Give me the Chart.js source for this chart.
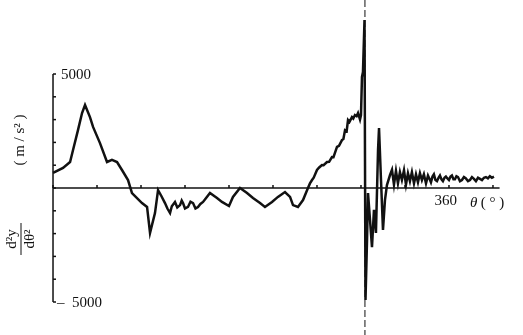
<!DOCTYPE html>
<html>
<head>
<meta charset="utf-8">
<script src="https://cdn.jsdelivr.net/npm/chart.js@4"></script>
<style>
  body { margin: 0; background: #fff; }
  canvas { display: block; }
</style>
</head>
<body>
<canvas id="lineChart" width="523" height="335"></canvas>
<script>
// crank angle (deg) and acceleration d2y/dθ2 (m/s2)
const theta = [0, 9.1, 15.5, 18.2, 22.7, 26.4, 29.1, 33.6, 36.4, 42.7, 49.1, 53.6, 58.2, 62.7, 68.2, 71.8,
    80.9, 85.5, 88.2, 92.7, 95.5, 98.5, 101.8, 104, 106.4, 108, 110.9, 113, 115.5, 117, 118.2, 120, 122.7,
    125, 127.3, 129.5, 131.8, 134, 136.4, 139, 142.7,
    149.1, 153.6, 160, 163.6, 170, 176.4, 181.8, 188.2, 192.7, 199.1, 204.5, 210.9, 215.5, 218.2, 222.7,
    227.3, 231.8, 233.6, 235.5, 237, 240, 242, 244.5, 246, 249.1, 251, 253.6, 255, 258.2, 260, 262.7, 264,
    265.5, 267, 268.2, 269.5, 271.8, 273, 274.5, 276, 277.3, 279.1,
    280, 280.9, 281.8, 283.2, 284.1, 285.5, 286.4, 288.2, 290, 291.8, 293.6, 295.5, 296.4, 298.2, 300,
    301.8, 303.6, 306.4, 308.2, 310, 311.8, 313.6, 315.4, 317.2, 319.1, 320.9, 322.7, 324.5, 326.3, 328.2,
    330, 331.8, 333.6, 335.4, 337.2, 339.1, 340.9, 342.3, 343.6, 345, 346.3, 347.7, 349.1, 350.5, 351.8,
    353.2, 354.5, 355.9, 357.2, 358.6, 360, 361.4, 362.7, 364.1, 365.4, 366.8, 368.2, 370, 371.8, 373.6,
    375.4, 377.3, 379.1, 380.9, 382.7, 384.5, 386.4, 388.2, 390, 391.8, 393.6, 395.4, 397.2, 399, 400.9];
const accel = [660, 880, 1140, 1670, 2540, 3290, 3640, 3110, 2680, 1970, 1140, 1230, 1140, 790, 350, -220,
    -660, -830, -1970, -1100, -90, -350, -660, -900, -1100, -800, -610, -850, -750, -550, -660, -900, -830,
    -600, -660, -900, -830, -700, -610, -450, -220,
    -440, -610, -790, -390, 0, -220, -440, -660, -830, -610, -390, -175, -390, -750, -830,
    -530, 0, 200, 350, 450, 790, 900, 1010, 1000, 1140, 1150, 1360, 1350, 1800, 1850, 2100, 2150,
    2540, 2500, 2980, 2900, 3110, 3050, 3200, 3150, 3290, 3000,
    3200, 4870, 5090, 7370, -4910, -2280, -220, -1400, -2590, -960, -1970, 1670, 2630, 350, -1840,
    -530, 130, 570, 800, 150, 750, 200, 700, 350, 780, 150, 650, 300, 700, 200,
    600, 250, 650, 350, 600, 200, 550, 400, 250, 500, 600, 350, 300, 450, 550,
    380, 300, 450, 500, 420, 350, 500, 550, 380, 380, 520, 480, 300, 350, 480,
    420, 300, 350, 480, 400, 300, 450, 400, 350, 450, 480, 420, 520, 450, 500];
const yTicks = [-5000, -4000, -3000, -2000, -1000, 0, 1000, 2000, 3000, 4000, 5000];
const xTicks = [0, 40, 80, 120, 160, 200, 240, 280, 320, 360, 400];
const markAngle = 283.6;

const points = theta.map((t, i) => ({ x: t, y: accel[i] }));

const axesPlugin = {
    id: 'axesPlugin',
    beforeDatasetsDraw(chart) {
        const ctx = chart.ctx;
        const xs = chart.scales.x, ys = chart.scales.y;
        const x0 = xs.getPixelForValue(0);
        const y0 = ys.getPixelForValue(0);
        ctx.save();
        ctx.strokeStyle = '#111';
        ctx.fillStyle = '#111';
        ctx.lineWidth = 1.5;
        // y axis
        ctx.beginPath();
        ctx.moveTo(x0, ys.getPixelForValue(5000));
        ctx.lineTo(x0, ys.getPixelForValue(-5000));
        ctx.stroke();
        yTicks.forEach(v => {
            const py = ys.getPixelForValue(v);
            ctx.beginPath();
            ctx.moveTo(x0, py);
            ctx.lineTo(x0 + 3, py);
            ctx.stroke();
        });
        // x axis
        ctx.beginPath();
        ctx.moveTo(x0, y0);
        ctx.lineTo(xs.getPixelForValue(406), y0);
        ctx.stroke();
        xTicks.forEach(t => {
            const px = xs.getPixelForValue(t);
            ctx.beginPath();
            ctx.moveTo(px, y0);
            ctx.lineTo(px, y0 - 3);
            ctx.stroke();
        });
        // dashed marker line
        ctx.lineWidth = 1;
        ctx.setLineDash([7, 3]);
        const mx = xs.getPixelForValue(markAngle);
        ctx.beginPath();
        ctx.moveTo(mx, 0);
        ctx.lineTo(mx, chart.height);
        ctx.stroke();
        ctx.setLineDash([]);

        // labels
        ctx.font = '15px "Liberation Serif"';
        ctx.textBaseline = 'middle';
        ctx.textAlign = 'left';
        ctx.fillText('5000', x0 + 8, ys.getPixelForValue(5000) + 1);
        ctx.fillText('\u2013  5000', x0 + 4, ys.getPixelForValue(-5000) + 1);
        ctx.textAlign = 'center';
        ctx.fillText('360', xs.getPixelForValue(357), y0 + 13);
        ctx.textAlign = 'left';
        ctx.font = 'italic 15px "Liberation Serif"';
        ctx.fillText('\u03b8', xs.getPixelForValue(379), y0 + 15);
        ctx.font = '15px "Liberation Serif"';
        ctx.fillText('( \u00b0 )', xs.getPixelForValue(389), y0 + 15);

        // y title, rotated
        ctx.save();
        ctx.translate(20, 140);
        ctx.rotate(-Math.PI / 2);
        ctx.textAlign = 'center';
        ctx.fillText('( m / s\u00b2 )', 0, 0);
        ctx.restore();
        ctx.save();
        ctx.translate(21, 239);
        ctx.rotate(-Math.PI / 2);
        ctx.textAlign = 'center';
        ctx.fillText('d\u00b2y', 0, -9);
        ctx.fillText('d\u03b8\u00b2', 0, 9);
        ctx.lineWidth = 1;
        ctx.beginPath();
        ctx.moveTo(-16, 0);
        ctx.lineTo(16, 0);
        ctx.stroke();
        ctx.restore();
        ctx.restore();
    }
};

const CHART = document.getElementById('lineChart');
const line_Chart = new Chart(CHART, {
    type: 'line',
    data: {
        datasets: [{
            data: points,
            borderColor: '#111',
            borderWidth: 2.5,
            pointRadius: 0,
            tension: 0,
            fill: false
        }]
    },
    options: {
        responsive: false,
        animation: false,
        layout: { padding: 0 },
        plugins: { legend: { display: false }, tooltip: { enabled: false } },
        scales: {
            x: { type: 'linear', min: -48.2, max: 427.3, display: false },
            y: { min: -6447, max: 8246, display: false }
        }
    },
    plugins: [axesPlugin]
});
</script>
</body>
</html>
